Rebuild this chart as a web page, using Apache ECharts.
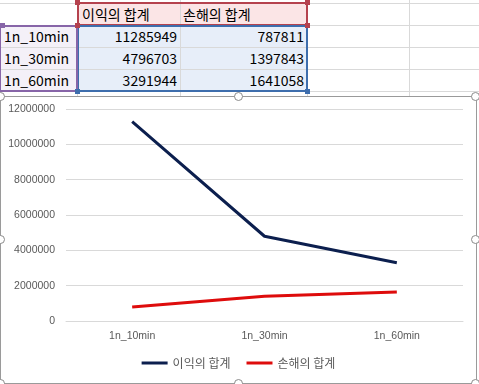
<!DOCTYPE html>
<html><head><meta charset="utf-8">
<script src="https://cdn.jsdelivr.net/npm/echarts@6/dist/echarts.min.js"></script>
<style>
html,body{margin:0;padding:0;background:#fff;width:479px;height:384px;overflow:hidden;position:relative;font-family:"Noto Sans CJK KR","Noto Sans",sans-serif;}
.g{position:absolute;background:#d9d9d9;}
.cell{position:absolute;font-size:14px;color:#000;line-height:22px;height:22px;white-space:nowrap;}
.box{position:absolute;box-sizing:border-box;}
.h{position:absolute;width:5px;height:5px;}
.c{position:absolute;width:9px;height:9px;border-radius:50%;border:1.5px solid #8a8a8a;background:#fff;box-sizing:border-box;}
#chart{position:absolute;left:0;top:96px;width:477px;height:288px;box-sizing:border-box;border:1px solid #9a9a9a;background:#fff;}
</style></head><body>
<div id="sheet"></div>
<div id="chart"></div>
<div id="handles"></div>
<script>
const categories = ['1n_10min', '1n_30min', '1n_60min'];
const seriesNames = ['이익의 합계', '손해의 합계'];
const profit = [11285949, 4796703, 3291944];
const loss = [787811, 1397843, 1641058];
const yTicks = [0, 2000000, 4000000, 6000000, 8000000, 10000000, 12000000];

// spreadsheet background
const sheet = document.getElementById('sheet');
function add(el){sheet.appendChild(el);return el;}
function div(cls, css, text){const d=document.createElement('div');d.className=cls;Object.assign(d.style,css);if(text!==undefined)d.textContent=text;return add(d);}
// fills
div('box',{left:'78px',top:'3px',width:'229px',height:'22px',background:'#fbe5e6'});
div('box',{left:'78px',top:'25px',width:'229px',height:'66px',background:'#e7eef9'});
div('box',{left:'0px',top:'25px',width:'78px',height:'66px',background:'#f4f0f8'});
// grid lines
[3,25,47,69,91].forEach(y=>div('g',{left:'0px',top:y+'px',width:'479px',height:'1px'}));
[77,180,307,409].forEach(x=>div('g',{left:x+'px',top:'0px',width:'1px',height:'96px'}));
// header texts
div('cell',{left:'82px',top:'3px'},seriesNames[0]);
div('cell',{left:'183px',top:'3px'},seriesNames[1]);
categories.forEach((c,i)=>{
  const top=(25+22*i)+'px';
  div('cell',{left:'4px',top:top},c);
  div('cell',{left:'78px',width:'99px',textAlign:'right',top:top},String(profit[i]));
  div('cell',{left:'180px',width:'124px',textAlign:'right',top:top},String(loss[i]));
});
// selection boxes
div('box',{left:'77px',top:'2px',width:'231px',height:'24px',border:'2px solid #b5424e'});
div('box',{left:'77px',top:'25px',width:'231px',height:'67px',border:'2px solid #3e6ead'});
div('box',{left:'-1px',top:'25px',width:'79px',height:'67px',border:'2px solid #8765a8'});
[[75,0,'#b5424e'],[305,0,'#b5424e'],[75,23,'#b5424e'],[305,23,'#b5424e'],[75,89,'#3e6ead'],[305,89,'#3e6ead'],[0,23,'#8765a8']].forEach(p=>div('h',{left:p[0]+'px',top:p[1]+'px',background:p[2]}));

const chart = echarts.init(document.getElementById('chart'), null, {renderer:'canvas'});
chart.setOption({
  animation:false,
  textStyle:{fontFamily:'"Liberation Sans", Arial, sans-serif'},
  grid:{left:65,right:13,top:12,bottom:62,containLabel:false},
  legend:{
    data:seriesNames, bottom:9, left:'center', icon:'rect', itemWidth:26, itemHeight:3, itemGap:16,
    textStyle:{color:'#595959',fontSize:12,fontFamily:'"Noto Sans CJK KR", sans-serif'}
  },
  xAxis:{
    type:'category', data:categories, boundaryGap:true,
    axisLine:{show:true,lineStyle:{color:'#d9d9d9'}}, axisTick:{show:false},
    axisLabel:{color:'#595959',fontSize:10.5,margin:10}
  },
  yAxis:{
    type:'value', min:yTicks[0], max:yTicks[yTicks.length-1], interval:2000000,
    axisLine:{show:false}, axisTick:{show:false},
    axisLabel:{color:'#595959',fontSize:10.5,margin:11,formatter:v=>String(v)},
    splitLine:{lineStyle:{color:'#d9d9d9'}}
  },
  series:[
    {name:seriesNames[0],type:'line',data:profit,symbol:'none',lineStyle:{color:'#0c1f4e',width:3},itemStyle:{color:'#0c1f4e'}},
    {name:seriesNames[1],type:'line',data:loss,symbol:'none',lineStyle:{color:'#de0c0c',width:3},itemStyle:{color:'#de0c0c'}}
  ]
});

// chart selection handles
const h=document.getElementById('handles');
[[-4,92],[234,92],[471,92],[-4,235],[471,235],[234,379],[-4,379],[471,379]].forEach(p=>{
  const d=document.createElement('div');d.className='c';d.style.left=p[0]+'px';d.style.top=p[1]+'px';h.appendChild(d);
});
</script>
</body></html>
